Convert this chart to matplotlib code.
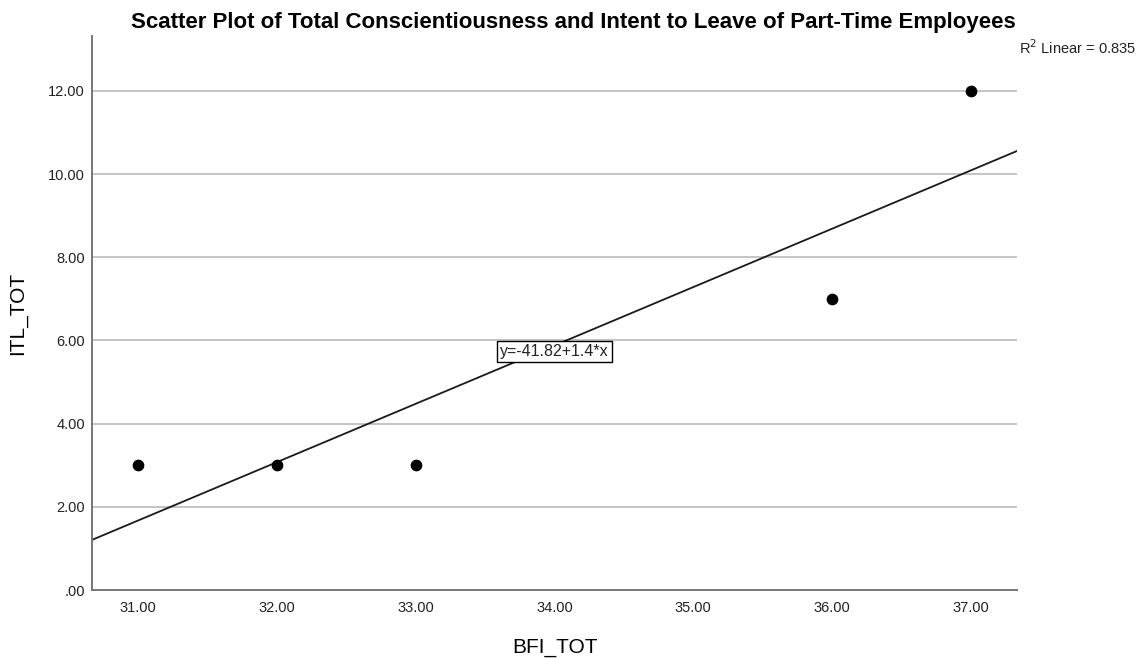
import numpy as np
import matplotlib
matplotlib.use("Agg")
import matplotlib.pyplot as plt

plt.rcParams["font.family"] = ["Liberation Sans", "DejaVu Sans"]

bfi_tot = [31, 32, 33, 36, 37]
itl_tot = [3, 3, 3, 7, 12]
y_ticks = [0, 2, 4, 6, 8, 10, 12]
x_ticks = [31, 32, 33, 34, 35, 36, 37]

slope, intercept = np.polyfit(bfi_tot, itl_tot, 1)
pred = np.polyval([slope, intercept], bfi_tot)
r2 = 1 - np.sum((np.array(itl_tot) - pred) ** 2) / np.sum((np.array(itl_tot) - np.mean(itl_tot)) ** 2)

fig = plt.figure(figsize=(11.39, 6.58), dpi=100)
ax = fig.add_axes([0.0808, 0.1033, 0.8121, 0.842])

xlim = (30.668, 37.332)
ax.set_xlim(*xlim)
ax.set_ylim(0, 13.32)

for v in y_ticks[1:]:
    ax.axhline(v, color="#c4c4c4", lw=1.4, zorder=1)

xs = np.array(xlim)
ax.plot(xs, intercept + slope * xs, color="#1a1a1a", lw=1.3, zorder=2)
ax.scatter(bfi_tot, itl_tot, s=55, color="black", zorder=3)

ax.text(34.0, intercept + slope * 34.0 - 0.15, "y=%.2f+%.1f*x" % (intercept, slope),
        ha="center", va="center", fontsize=11.5, color="#222222", zorder=4,
        bbox=dict(boxstyle="square,pad=0.2", fc="white", ec="black", lw=1))

ax.set_xticks(x_ticks)
ax.set_xticklabels(["%.2f" % v for v in x_ticks])
ax.set_yticks(y_ticks)
ax.set_yticklabels([".00"] + ["%.2f" % v for v in y_ticks[1:]])
ax.tick_params(length=0, labelsize=10.5, labelcolor="#222222")
ax.tick_params(axis="y", pad=5)
ax.tick_params(axis="x", pad=8)

for s in ["top", "right"]:
    ax.spines[s].set_visible(False)
for s in ["left", "bottom"]:
    ax.spines[s].set_color("#777777")
    ax.spines[s].set_linewidth(1.4)

ax.set_xlabel("BFI_TOT", fontsize=15, va="center")
ax.set_ylabel("ITL_TOT", fontsize=15, va="center")
ax.xaxis.set_label_coords(0.5, -0.103)
ax.yaxis.set_label_coords(-0.08, 0.5)

fig.text(0.5035, 0.966, "Scatter Plot of Total Conscientiousness and Intent to Leave of Part-Time Employees",
         ha="center", va="center", fontsize=16, fontweight="bold")
fig.text(0.895, 0.927, "R$^2$ Linear = %.3f" % r2, ha="left", va="center", fontsize=10.5, color="#222222")

fig.savefig("out.png", dpi=100)
